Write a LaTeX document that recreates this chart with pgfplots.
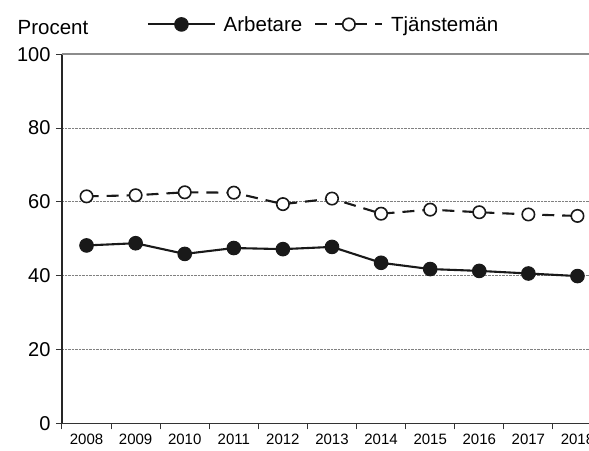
\documentclass[border=0pt]{standalone}
\usepackage{fontspec}
\setmainfont{Liberation Sans}
\usepackage{pgfplots}
\pgfplotsset{compat=1.18}
\begin{document}
\begin{tikzpicture}
\useasboundingbox (-62pt,-26.7pt) rectangle (527pt,423.3pt);
\clip (-62pt,-26.7pt) rectangle (527pt,423.3pt);
\begin{axis}[
  at={(0pt,0pt)}, anchor=south west,
  scale only axis,
  width=540pt, height=369pt,
  xmin=-0.5, xmax=10.5, ymin=0, ymax=100,
  axis x line*=bottom, axis y line*=left,
  x axis line style={black!80, line width=1.5pt},
  y axis line style={black!85, line width=1.5pt},
  xtick={-0.5,0.5,...,10.5},
  x tick label as interval,
  xticklabels={2008,2009,2010,2011,2012,2013,2014,2015,2016,2017,2018},
  ytick={0,20,40,60,80},
  extra y ticks={100},
  extra y tick style={grid style={solid, gray!90, line width=1.8pt}},
  ymajorgrids,
  grid style={densely dotted, gray, line width=0.8pt},
  tick align=outside,
  major tick length=6pt,
  tick style={black!80, line width=1pt},
  /pgf/number format/assume math mode=true,
  y tick label style={font=\fontsize{20}{24}\selectfont, xshift=-2pt},
  x tick label style={font=\fontsize{15}{18}\selectfont, yshift=-1pt},
  legend style={draw=none, fill=none, at={(axis description cs:0.1513,1.081)}, anchor=west,
    legend columns=-1, font=\fontsize{20.5}{24}\selectfont, nodes={inner sep=0pt},
    /tikz/every odd column/.style={column sep=7.7pt},
    /tikz/every even column/.style={column sep=12pt}},
  legend image code/.code={\draw[mark repeat=2,mark phase=2,#1] plot coordinates {(0pt,0pt) (33.5pt,0pt) (67pt,0pt)};},
  clip=false,
]
\addplot[black!90, line width=2.1pt, mark=*, mark size=6.8pt, mark options={fill=black!90, line width=1pt}]
  coordinates {(0,48.2) (1,48.8) (2,45.9) (3,47.5) (4,47.2) (5,47.8) (6,43.5) (7,41.8) (8,41.3) (9,40.6) (10,39.9)};
\addlegendentry{Arbetare}
\addplot[black!90, line width=2.1pt, dash pattern=on 12pt off 8pt, mark=*, mark size=6.2pt, mark options={solid, fill=white, line width=1.6pt}]
  coordinates {(0,61.5) (1,61.8) (2,62.6) (3,62.5) (4,59.4) (5,60.9) (6,56.8) (7,57.9) (8,57.2) (9,56.6) (10,56.2)};
\addlegendentry{Tjänstemän}
\node[font=\fontsize{20.5}{24}\selectfont, anchor=base, inner sep=0pt] at (axis description cs:-0.0167,1.055) {Procent};
\end{axis}
\end{tikzpicture}
\end{document}
